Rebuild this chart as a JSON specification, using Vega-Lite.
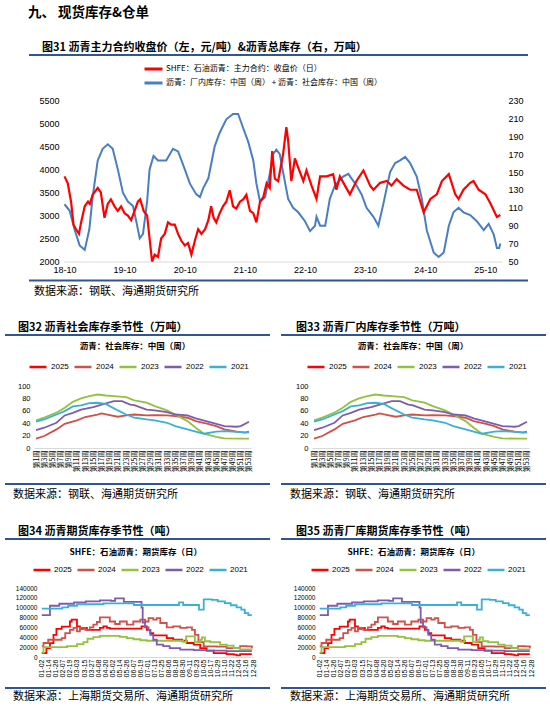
{
  "$schema": "https://vega.github.io/schema/vega-lite/v6.json",
  "padding": {"left": 5, "top": 5, "right": 0, "bottom": 0},
  "title": {"text": "九、   现货库存&仓单", "anchor": "start", "dx": 23, "offset": 22, "fontSize": 13.5, "fontWeight": "bold", "font": "Noto Sans CJK SC", "color": "#000000"},
  "datasets": {
    "price": [
      {"d": "2018-10-01", "v": 3850}, {"d": "2018-10-21", "v": 3700}, {"d": "2018-11-10", "v": 3300}, {"d": "2018-11-25", "v": 2800},
      {"d": "2018-12-10", "v": 2700}, {"d": "2018-12-28", "v": 2600}, {"d": "2019-01-10", "v": 2850}, {"d": "2019-02-01", "v": 3200},
      {"d": "2019-02-21", "v": 3300}, {"d": "2019-03-04", "v": 3250}, {"d": "2019-03-21", "v": 3450}, {"d": "2019-04-21", "v": 3600},
      {"d": "2019-05-10", "v": 3500}, {"d": "2019-06-01", "v": 2950}, {"d": "2019-06-21", "v": 3250}, {"d": "2019-07-10", "v": 3350},
      {"d": "2019-08-01", "v": 3200}, {"d": "2019-08-21", "v": 3100}, {"d": "2019-09-10", "v": 3200}, {"d": "2019-10-01", "v": 3050},
      {"d": "2019-10-21", "v": 3000}, {"d": "2019-11-10", "v": 2900}, {"d": "2019-12-01", "v": 3100}, {"d": "2019-12-21", "v": 3300},
      {"d": "2020-01-04", "v": 3350}, {"d": "2020-01-25", "v": 3100}, {"d": "2020-02-15", "v": 3000}, {"d": "2020-03-01", "v": 2500},
      {"d": "2020-03-16", "v": 2000}, {"d": "2020-04-01", "v": 2150}, {"d": "2020-04-21", "v": 2100}, {"d": "2020-05-10", "v": 2500},
      {"d": "2020-06-01", "v": 2600}, {"d": "2020-06-21", "v": 2850}, {"d": "2020-07-10", "v": 2800}, {"d": "2020-08-01", "v": 2800},
      {"d": "2020-08-21", "v": 2600}, {"d": "2020-09-10", "v": 2450}, {"d": "2020-10-01", "v": 2350}, {"d": "2020-10-21", "v": 2400},
      {"d": "2020-11-10", "v": 2150}, {"d": "2020-12-01", "v": 2450}, {"d": "2020-12-21", "v": 2700}, {"d": "2021-01-10", "v": 2600},
      {"d": "2021-02-01", "v": 2700}, {"d": "2021-02-21", "v": 2900}, {"d": "2021-03-10", "v": 3200}, {"d": "2021-03-25", "v": 2950},
      {"d": "2021-04-10", "v": 2850}, {"d": "2021-05-01", "v": 3050}, {"d": "2021-05-21", "v": 3200}, {"d": "2021-06-10", "v": 3300},
      {"d": "2021-07-01", "v": 3550}, {"d": "2021-07-21", "v": 3200}, {"d": "2021-08-10", "v": 3150}, {"d": "2021-09-01", "v": 3300},
      {"d": "2021-09-21", "v": 3350}, {"d": "2021-10-10", "v": 3450}, {"d": "2021-11-01", "v": 3100}, {"d": "2021-11-21", "v": 3050},
      {"d": "2021-12-10", "v": 2850}, {"d": "2022-01-01", "v": 3300}, {"d": "2022-01-21", "v": 3400}, {"d": "2022-02-10", "v": 3700},
      {"d": "2022-03-01", "v": 3600}, {"d": "2022-03-16", "v": 4400}, {"d": "2022-04-01", "v": 3800}, {"d": "2022-04-21", "v": 3750},
      {"d": "2022-05-21", "v": 4330}, {"d": "2022-06-10", "v": 4920}, {"d": "2022-06-21", "v": 4620}, {"d": "2022-07-10", "v": 3750},
      {"d": "2022-08-01", "v": 4240}, {"d": "2022-08-21", "v": 4040}, {"d": "2022-09-21", "v": 3750}, {"d": "2022-10-10", "v": 3980},
      {"d": "2022-11-10", "v": 3650}, {"d": "2022-12-10", "v": 3360}, {"d": "2023-01-01", "v": 3850}, {"d": "2023-02-10", "v": 3850},
      {"d": "2023-03-21", "v": 3900}, {"d": "2023-04-10", "v": 3560}, {"d": "2023-05-01", "v": 3850}, {"d": "2023-06-01", "v": 3650},
      {"d": "2023-07-01", "v": 3460}, {"d": "2023-08-10", "v": 3750}, {"d": "2023-09-21", "v": 3980}, {"d": "2023-11-01", "v": 3650},
      {"d": "2023-11-21", "v": 3560}, {"d": "2024-01-01", "v": 3710}, {"d": "2024-02-10", "v": 3750}, {"d": "2024-03-10", "v": 3650},
      {"d": "2024-04-10", "v": 3790}, {"d": "2024-05-21", "v": 3650}, {"d": "2024-07-01", "v": 3560}, {"d": "2024-08-10", "v": 3560},
      {"d": "2024-09-21", "v": 3070}, {"d": "2024-11-01", "v": 3360}, {"d": "2024-12-10", "v": 3460}, {"d": "2025-01-10", "v": 3750},
      {"d": "2025-02-21", "v": 3900}, {"d": "2025-04-01", "v": 3460}, {"d": "2025-04-21", "v": 3360}, {"d": "2025-05-21", "v": 3560},
      {"d": "2025-07-01", "v": 3710}, {"d": "2025-07-21", "v": 3750}, {"d": "2025-08-21", "v": 3560}, {"d": "2025-10-01", "v": 3460},
      {"d": "2025-11-01", "v": 3260}, {"d": "2025-12-10", "v": 2970}, {"d": "2025-12-31", "v": 3010}
    ],
    "stock": [
      {"d": "2018-10-01", "v": 114}, {"d": "2018-11-01", "v": 107}, {"d": "2018-12-01", "v": 86}, {"d": "2019-01-01", "v": 68},
      {"d": "2019-02-01", "v": 63}, {"d": "2019-03-01", "v": 86}, {"d": "2019-03-21", "v": 122}, {"d": "2019-04-21", "v": 163},
      {"d": "2019-05-21", "v": 176}, {"d": "2019-06-21", "v": 181}, {"d": "2019-07-21", "v": 176}, {"d": "2019-08-21", "v": 153},
      {"d": "2019-09-21", "v": 127}, {"d": "2019-10-21", "v": 117}, {"d": "2019-11-21", "v": 112}, {"d": "2019-12-10", "v": 96},
      {"d": "2020-01-01", "v": 76}, {"d": "2020-01-21", "v": 81}, {"d": "2020-02-15", "v": 117}, {"d": "2020-03-01", "v": 153},
      {"d": "2020-03-25", "v": 168}, {"d": "2020-04-21", "v": 163}, {"d": "2020-06-10", "v": 163}, {"d": "2020-07-21", "v": 176},
      {"d": "2020-08-21", "v": 173}, {"d": "2020-10-01", "v": 153}, {"d": "2020-11-01", "v": 137}, {"d": "2020-12-10", "v": 125},
      {"d": "2021-01-01", "v": 122}, {"d": "2021-01-21", "v": 132}, {"d": "2021-02-21", "v": 143}, {"d": "2021-04-01", "v": 179},
      {"d": "2021-05-01", "v": 194}, {"d": "2021-06-10", "v": 209}, {"d": "2021-07-21", "v": 215}, {"d": "2021-08-21", "v": 215},
      {"d": "2021-09-21", "v": 199}, {"d": "2021-10-21", "v": 184}, {"d": "2021-11-21", "v": 163}, {"d": "2021-12-10", "v": 137},
      {"d": "2022-01-01", "v": 117}, {"d": "2022-02-01", "v": 122}, {"d": "2022-03-01", "v": 148}, {"d": "2022-03-21", "v": 170},
      {"d": "2022-04-10", "v": 175}, {"d": "2022-05-01", "v": 170}, {"d": "2022-05-21", "v": 150}, {"d": "2022-06-21", "v": 120},
      {"d": "2022-07-21", "v": 110}, {"d": "2022-08-21", "v": 105}, {"d": "2022-10-01", "v": 95}, {"d": "2022-11-01", "v": 84},
      {"d": "2022-12-01", "v": 90}, {"d": "2022-12-10", "v": 100}, {"d": "2023-01-01", "v": 90}, {"d": "2023-02-01", "v": 90},
      {"d": "2023-03-01", "v": 120}, {"d": "2023-04-01", "v": 135}, {"d": "2023-05-21", "v": 145}, {"d": "2023-06-21", "v": 148},
      {"d": "2023-08-10", "v": 135}, {"d": "2023-09-10", "v": 125}, {"d": "2023-10-10", "v": 110}, {"d": "2023-11-21", "v": 100},
      {"d": "2023-12-21", "v": 90}, {"d": "2024-01-21", "v": 115}, {"d": "2024-03-01", "v": 150}, {"d": "2024-04-01", "v": 160},
      {"d": "2024-05-01", "v": 163}, {"d": "2024-06-01", "v": 167}, {"d": "2024-07-01", "v": 160}, {"d": "2024-08-10", "v": 145},
      {"d": "2024-09-10", "v": 120}, {"d": "2024-10-10", "v": 85}, {"d": "2024-11-21", "v": 60}, {"d": "2024-12-21", "v": 55},
      {"d": "2025-01-21", "v": 60}, {"d": "2025-02-21", "v": 90}, {"d": "2025-03-21", "v": 105}, {"d": "2025-04-21", "v": 110},
      {"d": "2025-05-21", "v": 105}, {"d": "2025-07-01", "v": 102}, {"d": "2025-08-10", "v": 95}, {"d": "2025-09-21", "v": 85},
      {"d": "2025-10-21", "v": 92}, {"d": "2025-11-21", "v": 80}, {"d": "2025-12-10", "v": 65}, {"d": "2025-12-24", "v": 65},
      {"d": "2025-12-31", "v": 70}
    ],
    "social": [
      {"yr": "2024", "w": 1, "v": 15}, {"yr": "2024", "w": 3, "v": 19.3}, {"yr": "2024", "w": 6, "v": 30}, {"yr": "2024", "w": 8, "v": 39},
      {"yr": "2024", "w": 11, "v": 44.5}, {"yr": "2024", "w": 13, "v": 50}, {"yr": "2024", "w": 16, "v": 54}, {"yr": "2024", "w": 17, "v": 55.8},
      {"yr": "2024", "w": 19, "v": 53}, {"yr": "2024", "w": 21, "v": 50.4}, {"yr": "2024", "w": 23, "v": 52.5}, {"yr": "2024", "w": 25, "v": 54},
      {"yr": "2024", "w": 28, "v": 52.5}, {"yr": "2024", "w": 30, "v": 53}, {"yr": "2024", "w": 33, "v": 52.5}, {"yr": "2024", "w": 35, "v": 51.5},
      {"yr": "2024", "w": 38, "v": 48.8}, {"yr": "2024", "w": 40, "v": 43.4}, {"yr": "2024", "w": 43, "v": 39}, {"yr": "2024", "w": 45, "v": 35.4},
      {"yr": "2024", "w": 47, "v": 30}, {"yr": "2024", "w": 50, "v": 26.3}, {"yr": "2024", "w": 52, "v": 24.7}, {"yr": "2024", "w": 53, "v": 26.3},
      {"yr": "2023", "w": 1, "v": 44.5}, {"yr": "2023", "w": 3, "v": 49}, {"yr": "2023", "w": 6, "v": 57}, {"yr": "2023", "w": 8, "v": 65},
      {"yr": "2023", "w": 10, "v": 74.5}, {"yr": "2023", "w": 12, "v": 80}, {"yr": "2023", "w": 14, "v": 83.6}, {"yr": "2023", "w": 16, "v": 86.3},
      {"yr": "2023", "w": 18, "v": 84.7}, {"yr": "2023", "w": 20, "v": 83.6}, {"yr": "2023", "w": 23, "v": 82}, {"yr": "2023", "w": 25, "v": 77},
      {"yr": "2023", "w": 28, "v": 73}, {"yr": "2023", "w": 30, "v": 67.6}, {"yr": "2023", "w": 33, "v": 60.6}, {"yr": "2023", "w": 35, "v": 54},
      {"yr": "2023", "w": 38, "v": 43.4}, {"yr": "2023", "w": 40, "v": 32.7}, {"yr": "2023", "w": 42, "v": 23}, {"yr": "2023", "w": 45, "v": 18},
      {"yr": "2023", "w": 47, "v": 15.5}, {"yr": "2023", "w": 51, "v": 15}, {"yr": "2023", "w": 53, "v": 15},
      {"yr": "2022", "w": 1, "v": 29}, {"yr": "2022", "w": 3, "v": 32.7}, {"yr": "2022", "w": 6, "v": 40.7}, {"yr": "2022", "w": 8, "v": 52.5},
      {"yr": "2022", "w": 10, "v": 56.8}, {"yr": "2022", "w": 12, "v": 62}, {"yr": "2022", "w": 15, "v": 66}, {"yr": "2022", "w": 17, "v": 70},
      {"yr": "2022", "w": 20, "v": 75.6}, {"yr": "2022", "w": 22, "v": 75.6}, {"yr": "2022", "w": 24, "v": 70}, {"yr": "2022", "w": 25, "v": 69},
      {"yr": "2022", "w": 28, "v": 62}, {"yr": "2022", "w": 30, "v": 60.6}, {"yr": "2022", "w": 33, "v": 58}, {"yr": "2022", "w": 35, "v": 54},
      {"yr": "2022", "w": 38, "v": 52.5}, {"yr": "2022", "w": 40, "v": 47.7}, {"yr": "2022", "w": 43, "v": 42.4}, {"yr": "2022", "w": 45, "v": 39},
      {"yr": "2022", "w": 47, "v": 35.4}, {"yr": "2022", "w": 50, "v": 34.3}, {"yr": "2022", "w": 51, "v": 35.4}, {"yr": "2022", "w": 53, "v": 42.4},
      {"yr": "2021", "w": 1, "v": 42.4}, {"yr": "2021", "w": 3, "v": 46}, {"yr": "2021", "w": 6, "v": 54}, {"yr": "2021", "w": 8, "v": 59.5},
      {"yr": "2021", "w": 10, "v": 67}, {"yr": "2021", "w": 12, "v": 68.6}, {"yr": "2021", "w": 14, "v": 72.4}, {"yr": "2021", "w": 16, "v": 73},
      {"yr": "2021", "w": 18, "v": 71.3}, {"yr": "2021", "w": 19, "v": 67.6}, {"yr": "2021", "w": 21, "v": 60.6}, {"yr": "2021", "w": 23, "v": 54},
      {"yr": "2021", "w": 25, "v": 48.8}, {"yr": "2021", "w": 28, "v": 46}, {"yr": "2021", "w": 30, "v": 44.5}, {"yr": "2021", "w": 33, "v": 40.7},
      {"yr": "2021", "w": 35, "v": 35.4}, {"yr": "2021", "w": 38, "v": 30}, {"yr": "2021", "w": 40, "v": 26.3}, {"yr": "2021", "w": 42, "v": 23},
      {"yr": "2021", "w": 45, "v": 26.3}, {"yr": "2021", "w": 47, "v": 27.3}, {"yr": "2021", "w": 51, "v": 25.7}, {"yr": "2021", "w": 53, "v": 24.7}
    ],
    "futures": [
      {"yr": "2025", "d": 0, "v": 8000}, {"yr": "2025", "d": 8, "v": 18000}, {"yr": "2025", "d": 14, "v": 28000}, {"yr": "2025", "d": 20, "v": 45000},
      {"yr": "2025", "d": 25, "v": 57000}, {"yr": "2025", "d": 34, "v": 61500}, {"yr": "2025", "d": 48, "v": 72000}, {"yr": "2025", "d": 51, "v": 75700},
      {"yr": "2025", "d": 60, "v": 62000}, {"yr": "2025", "d": 65, "v": 57000}, {"yr": "2025", "d": 71, "v": 59000}, {"yr": "2025", "d": 77, "v": 55000},
      {"yr": "2025", "d": 99, "v": 59000}, {"yr": "2025", "d": 105, "v": 62000}, {"yr": "2025", "d": 111, "v": 59000}, {"yr": "2025", "d": 116, "v": 57500},
      {"yr": "2025", "d": 170, "v": 62000}, {"yr": "2025", "d": 179, "v": 55000}, {"yr": "2025", "d": 185, "v": 48600}, {"yr": "2025", "d": 190, "v": 44000},
      {"yr": "2025", "d": 213, "v": 38500}, {"yr": "2025", "d": 224, "v": 35000}, {"yr": "2025", "d": 239, "v": 33000}, {"yr": "2025", "d": 247, "v": 28400},
      {"yr": "2025", "d": 259, "v": 25000}, {"yr": "2025", "d": 270, "v": 18000}, {"yr": "2025", "d": 281, "v": 13000}, {"yr": "2025", "d": 293, "v": 8000},
      {"yr": "2025", "d": 315, "v": 6000}, {"yr": "2025", "d": 327, "v": 4700}, {"yr": "2025", "d": 332, "v": 3400}, {"yr": "2025", "d": 338, "v": 6000},
      {"yr": "2025", "d": 358, "v": 6000},
      {"yr": "2024", "d": 0, "v": 21600}, {"yr": "2024", "d": 3, "v": 28400}, {"yr": "2024", "d": 11, "v": 35000}, {"yr": "2024", "d": 34, "v": 38500},
      {"yr": "2024", "d": 40, "v": 48600}, {"yr": "2024", "d": 48, "v": 55000}, {"yr": "2024", "d": 54, "v": 59000}, {"yr": "2024", "d": 60, "v": 52000},
      {"yr": "2024", "d": 65, "v": 59000}, {"yr": "2024", "d": 74, "v": 55000}, {"yr": "2024", "d": 82, "v": 60000}, {"yr": "2024", "d": 88, "v": 65500},
      {"yr": "2024", "d": 94, "v": 71000}, {"yr": "2024", "d": 99, "v": 80400}, {"yr": "2024", "d": 116, "v": 72000}, {"yr": "2024", "d": 125, "v": 67000},
      {"yr": "2024", "d": 133, "v": 72000}, {"yr": "2024", "d": 145, "v": 65500}, {"yr": "2024", "d": 156, "v": 72000}, {"yr": "2024", "d": 168, "v": 75700},
      {"yr": "2024", "d": 176, "v": 72000}, {"yr": "2024", "d": 182, "v": 79000}, {"yr": "2024", "d": 190, "v": 75700}, {"yr": "2024", "d": 196, "v": 79000},
      {"yr": "2024", "d": 202, "v": 69000}, {"yr": "2024", "d": 213, "v": 60000}, {"yr": "2024", "d": 224, "v": 62000}, {"yr": "2024", "d": 236, "v": 59000},
      {"yr": "2024", "d": 247, "v": 60000}, {"yr": "2024", "d": 256, "v": 55000}, {"yr": "2024", "d": 261, "v": 45000}, {"yr": "2024", "d": 267, "v": 30000},
      {"yr": "2024", "d": 276, "v": 21600}, {"yr": "2024", "d": 298, "v": 21000}, {"yr": "2024", "d": 315, "v": 18000}, {"yr": "2024", "d": 338, "v": 22000},
      {"yr": "2024", "d": 349, "v": 21600}, {"yr": "2024", "d": 358, "v": 18000},
      {"yr": "2023", "d": 0, "v": 9000}, {"yr": "2023", "d": 3, "v": 20000}, {"yr": "2023", "d": 43, "v": 22000}, {"yr": "2023", "d": 60, "v": 26000},
      {"yr": "2023", "d": 71, "v": 30000}, {"yr": "2023", "d": 78, "v": 37000}, {"yr": "2023", "d": 88, "v": 40500}, {"yr": "2023", "d": 99, "v": 43000},
      {"yr": "2023", "d": 133, "v": 41000}, {"yr": "2023", "d": 145, "v": 38500}, {"yr": "2023", "d": 156, "v": 36000}, {"yr": "2023", "d": 168, "v": 34000},
      {"yr": "2023", "d": 179, "v": 33000}, {"yr": "2023", "d": 241, "v": 30500}, {"yr": "2023", "d": 246, "v": 42000}, {"yr": "2023", "d": 259, "v": 42000},
      {"yr": "2023", "d": 261, "v": 30500}, {"yr": "2023", "d": 270, "v": 35000}, {"yr": "2023", "d": 273, "v": 40000}, {"yr": "2023", "d": 278, "v": 32000},
      {"yr": "2023", "d": 287, "v": 30000}, {"yr": "2023", "d": 304, "v": 25000}, {"yr": "2023", "d": 315, "v": 23000}, {"yr": "2023", "d": 327, "v": 18000},
      {"yr": "2023", "d": 338, "v": 15500}, {"yr": "2023", "d": 358, "v": 15000},
      {"yr": "2022", "d": 0, "v": 85000}, {"yr": "2022", "d": 14, "v": 104000}, {"yr": "2022", "d": 30, "v": 108000}, {"yr": "2022", "d": 55, "v": 111000},
      {"yr": "2022", "d": 75, "v": 113000}, {"yr": "2022", "d": 99, "v": 115000}, {"yr": "2022", "d": 118, "v": 114000}, {"yr": "2022", "d": 125, "v": 119000},
      {"yr": "2022", "d": 140, "v": 112000}, {"yr": "2022", "d": 168, "v": 112000}, {"yr": "2022", "d": 170, "v": 100000}, {"yr": "2022", "d": 172, "v": 70000},
      {"yr": "2022", "d": 176, "v": 60000}, {"yr": "2022", "d": 182, "v": 55000}, {"yr": "2022", "d": 185, "v": 45000}, {"yr": "2022", "d": 190, "v": 35000},
      {"yr": "2022", "d": 196, "v": 25000}, {"yr": "2022", "d": 207, "v": 22000}, {"yr": "2022", "d": 218, "v": 18000}, {"yr": "2022", "d": 236, "v": 15000},
      {"yr": "2022", "d": 259, "v": 14000}, {"yr": "2022", "d": 281, "v": 13000}, {"yr": "2022", "d": 315, "v": 12000}, {"yr": "2022", "d": 358, "v": 12000},
      {"yr": "2021", "d": 0, "v": 98000}, {"yr": "2021", "d": 35, "v": 100700}, {"yr": "2021", "d": 45, "v": 104000}, {"yr": "2021", "d": 60, "v": 107000},
      {"yr": "2021", "d": 105, "v": 109000}, {"yr": "2021", "d": 157, "v": 105500}, {"yr": "2021", "d": 234, "v": 111000}, {"yr": "2021", "d": 241, "v": 105500},
      {"yr": "2021", "d": 268, "v": 96000}, {"yr": "2021", "d": 276, "v": 117000}, {"yr": "2021", "d": 290, "v": 116000}, {"yr": "2021", "d": 300, "v": 113000},
      {"yr": "2021", "d": 312, "v": 109500}, {"yr": "2021", "d": 322, "v": 105000}, {"yr": "2021", "d": 332, "v": 100700}, {"yr": "2021", "d": 340, "v": 96000},
      {"yr": "2021", "d": 346, "v": 89000}, {"yr": "2021", "d": 352, "v": 85000}, {"yr": "2021", "d": 358, "v": 85000}
    ]
  },
  "spacing": 23,
  "resolve": {"scale": {"color": "independent"}, "legend": {"color": "independent"}},
  "vconcat": [
    {
      "spacing": 10,
      "resolve": {"scale": {"color": "independent"}, "legend": {"color": "independent"}},
      "hconcat": [
        {"width": 13, "height": 1, "data": {"values": [{}]}, "mark": {"type": "point", "size": 0, "opacity": 0}},
        {
          "spacing": 4.5,
          "resolve": {"scale": {"color": "independent"}, "legend": {"color": "independent"}},
          "vconcat": [
            {
              "width": 497, "height": 0.01,
              "view": {"stroke": "#2F5597", "strokeWidth": 2},
              "title": {"text": "图31  沥青主力合约收盘价（左，元/吨）&沥青总库存（右，万吨）", "anchor": "start", "dx": 12, "offset": 1.7, "fontSize": 11, "fontWeight": "bold"},
              "data": {"values": [{}]}, "mark": {"type": "point", "size": 0, "opacity": 0}
            },
            {
              "spacing": 5,
              "resolve": {"scale": {"color": "independent"}, "legend": {"color": "independent"}},
              "vconcat": [
                {
                  "spacing": 7,
                  "resolve": {"scale": {"color": "independent"}, "legend": {"color": "independent"}},
                  "hconcat": [
                    {"width": 1, "height": 1, "data": {"values": [{}]}, "mark": {"type": "point", "size": 0, "opacity": 0}},
                    {
                      "width": 439, "height": 161,
                      "layer": [
                        {
                          "data": {"name": "stock"},
                          "mark": {"type": "line", "strokeWidth": 2},
                          "encoding": {
                            "x": {"field": "d", "type": "temporal",
                              "scale": {"type": "utc", "domain": [{"year": 2018, "month": 9, "date": 22, "utc": true}, {"year": 2026, "month": 1, "date": 10, "utc": true}]},
                              "axis": {"title": null, "format": "%y-%m", "labelFontSize": 9, "labelPadding": 4, "domain": true, "domainColor": "#D9D9D9", "labelOverlap": false, "labelFlush": false,
                                "values": [
                                  {"year": 2018, "month": 10, "date": 1, "utc": true}, {"year": 2019, "month": 4, "date": 1, "utc": true},
                                  {"year": 2019, "month": 10, "date": 1, "utc": true}, {"year": 2020, "month": 4, "date": 1, "utc": true},
                                  {"year": 2020, "month": 10, "date": 1, "utc": true}, {"year": 2021, "month": 4, "date": 1, "utc": true},
                                  {"year": 2021, "month": 10, "date": 1, "utc": true}, {"year": 2022, "month": 4, "date": 1, "utc": true},
                                  {"year": 2022, "month": 10, "date": 1, "utc": true}, {"year": 2023, "month": 4, "date": 1, "utc": true},
                                  {"year": 2023, "month": 10, "date": 1, "utc": true}, {"year": 2024, "month": 4, "date": 1, "utc": true},
                                  {"year": 2024, "month": 10, "date": 1, "utc": true}, {"year": 2025, "month": 4, "date": 1, "utc": true},
                                  {"year": 2025, "month": 10, "date": 1, "utc": true}
                                ]}},
                            "y": {"field": "v", "type": "quantitative", "scale": {"domain": [50, 230], "nice": false, "zero": false},
                              "axis": {"orient": "right", "title": null, "values": [50, 70, 90, 110, 130, 150, 170, 190, 210, 230], "labelFontSize": 9, "labelPadding": 6}},
                            "color": {"datum": "沥青：厂内库存：中国（周） + 沥青：社会库存：中国（周）", "type": "nominal",
                              "scale": {"domain": ["SHFE：石油沥青：主力合约：收盘价（日）", "沥青：厂内库存：中国（周） + 沥青：社会库存：中国（周）"], "range": ["#FF0000", "#4A7EC2"]},
                              "legend": {"orient": "none", "legendX": 83, "legendY": -39, "direction": "vertical", "title": null, "symbolType": "M-1.5,0H1.5", "symbolSize": 144, "symbolStrokeWidth": 3,
                                "labelFont": "Noto Sans CJK SC", "labelFontSize": 8, "labelLimit": 400, "rowPadding": 0, "padding": 0, "labelOffset": 5}}
                          }
                        },
                        {
                          "data": {"name": "price"},
                          "mark": {"type": "line", "strokeWidth": 2.2},
                          "encoding": {
                            "x": {"field": "d", "type": "temporal"},
                            "y": {"field": "v", "type": "quantitative", "scale": {"domain": [2000, 5500], "nice": false, "zero": false},
                              "axis": {"orient": "left", "title": null, "format": "d", "values": [2000, 2500, 3000, 3500, 4000, 4500, 5000, 5500], "labelFontSize": 9, "labelPadding": 4}},
                            "color": {"datum": "SHFE：石油沥青：主力合约：收盘价（日）", "type": "nominal"}
                          }
                        }
                      ],
                      "resolve": {"scale": {"y": "independent"}}
                    }
                  ]
                },
                {
                  "width": 497, "height": 0.01,
                  "view": {"stroke": "#2F5597", "strokeWidth": 2},
                  "title": {"text": "数据来源：钢联、海通期货研究所", "orient": "bottom", "anchor": "start", "dx": 4, "offset": 5, "fontSize": 11, "fontWeight": "normal"},
                  "data": {"values": [{}]}, "mark": {"type": "point", "size": 0, "opacity": 0}
                }
              ]
            }
          ]
        }
      ]
    },
    {
      "spacing": 11,
      "resolve": {"scale": {"color": "independent"}, "legend": {"color": "independent"}},
      "hconcat": [
        {
          "spacing": 4,
          "resolve": {"scale": {"color": "independent"}, "legend": {"color": "independent"}},
          "vconcat": [
            {
              "width": 263, "height": 0.01,
              "view": {"stroke": "#2F5597", "strokeWidth": 2},
              "title": {"text": "图32  沥青社会库存季节性（万吨）", "anchor": "start", "dx": 12, "offset": 1.7, "fontSize": 11, "fontWeight": "bold"},
              "data": {"values": [{}]}, "mark": {"type": "point", "size": 0, "opacity": 0}
            },
            {
              "spacing": 11,
              "resolve": {"scale": {"color": "independent"}, "legend": {"color": "independent"}},
              "vconcat": [
                {
                  "spacing": 10,
                  "resolve": {"scale": {"color": "independent"}, "legend": {"color": "independent"}},
                  "hconcat": [
                    {"width": 1, "height": 1, "data": {"values": [{}]}, "mark": {"type": "point", "size": 0, "opacity": 0}},
                    {
                      "width": 217, "height": 62,
                      "title": {"text": "沥青：社会库存：中国（周）", "fontSize": 8.5, "fontWeight": "bold", "anchor": "middle", "frame": "bounds", "offset": 7},
                      "data": {"name": "social"},
                      "mark": {"type": "line", "strokeWidth": 1.8},
                      "encoding": {
                        "x": {"field": "w", "type": "quantitative", "scale": {"domain": [0.5, 53.5], "nice": false, "zero": false},
                          "axis": {"title": null, "values": [1, 3, 5, 7, 9, 11, 13, 15, 17, 19, 21, 23, 25, 27, 29, 31, 33, 35, 37, 39, 41, 43, 45, 47, 49, 51, 53],
                            "labelExpr": "'第' + datum.value + '周'", "labelAngle": -90, "labelFont": "Noto Sans CJK SC", "labelFontSize": 7, "labelPadding": 2,
                            "labelOverlap": false, "labelFlush": false, "domain": true, "domainColor": "#D9D9D9"}},
                        "y": {"field": "v", "type": "quantitative", "scale": {"domain": [0, 100], "nice": false},
                          "axis": {"title": null, "values": [0, 20, 40, 60, 80, 100], "labelFontSize": 7.5, "labelPadding": 4}},
                        "color": {"field": "yr", "type": "nominal",
                          "scale": {"domain": ["2025", "2024", "2023", "2022", "2021"], "range": ["#FF0000", "#D0504A", "#92C23E", "#7F5BB0", "#38B1D6"]},
                          "legend": {"orient": "none", "legendX": -6, "legendY": -29, "direction": "horizontal", "columns": 5, "gridAlign": "all", "title": null, "symbolType": "stroke", "symbolSize": 289,
                            "symbolStrokeWidth": 2.5, "labelFontSize": 8, "columnPadding": 0, "labelOffset": 3}}
                      }
                    }
                  ]
                },
                {
                  "width": 263, "height": 0.01,
                  "view": {"stroke": "#2F5597", "strokeWidth": 2},
                  "title": {"text": "数据来源：钢联、海通期货研究所", "orient": "bottom", "anchor": "start", "dx": 7, "offset": 5, "fontSize": 11, "fontWeight": "normal"},
                  "data": {"values": [{}]}, "mark": {"type": "point", "size": 0, "opacity": 0}
                }
              ]
            }
          ]
        },
        {
          "spacing": 4,
          "resolve": {"scale": {"color": "independent"}, "legend": {"color": "independent"}},
          "vconcat": [
            {
              "width": 263, "height": 0.01,
              "view": {"stroke": "#2F5597", "strokeWidth": 2},
              "title": {"text": "图33  沥青厂内库存季节性（万吨）", "anchor": "start", "dx": 14, "offset": 1.7, "fontSize": 11, "fontWeight": "bold"},
              "data": {"values": [{}]}, "mark": {"type": "point", "size": 0, "opacity": 0}
            },
            {
              "spacing": 11,
              "resolve": {"scale": {"color": "independent"}, "legend": {"color": "independent"}},
              "vconcat": [
                {
                  "spacing": 12,
                  "resolve": {"scale": {"color": "independent"}, "legend": {"color": "independent"}},
                  "hconcat": [
                    {"width": 1, "height": 1, "data": {"values": [{}]}, "mark": {"type": "point", "size": 0, "opacity": 0}},
                    {
                      "width": 217, "height": 62,
                      "title": {"text": "沥青：社会库存：中国（周）", "fontSize": 8.5, "fontWeight": "bold", "anchor": "middle", "frame": "bounds", "offset": 7},
                      "data": {"name": "social"},
                      "mark": {"type": "line", "strokeWidth": 1.8},
                      "encoding": {
                        "x": {"field": "w", "type": "quantitative", "scale": {"domain": [0.5, 53.5], "nice": false, "zero": false},
                          "axis": {"title": null, "values": [1, 3, 5, 7, 9, 11, 13, 15, 17, 19, 21, 23, 25, 27, 29, 31, 33, 35, 37, 39, 41, 43, 45, 47, 49, 51, 53],
                            "labelExpr": "'第' + datum.value + '周'", "labelAngle": -90, "labelFont": "Noto Sans CJK SC", "labelFontSize": 7, "labelPadding": 2,
                            "labelOverlap": false, "labelFlush": false, "domain": true, "domainColor": "#D9D9D9"}},
                        "y": {"field": "v", "type": "quantitative", "scale": {"domain": [0, 100], "nice": false},
                          "axis": {"title": null, "values": [0, 20, 40, 60, 80, 100], "labelFontSize": 7.5, "labelPadding": 4}},
                        "color": {"field": "yr", "type": "nominal",
                          "scale": {"domain": ["2025", "2024", "2023", "2022", "2021"], "range": ["#FF0000", "#D0504A", "#92C23E", "#7F5BB0", "#38B1D6"]},
                          "legend": {"orient": "none", "legendX": -6, "legendY": -29, "direction": "horizontal", "columns": 5, "gridAlign": "all", "title": null, "symbolType": "stroke", "symbolSize": 289,
                            "symbolStrokeWidth": 2.5, "labelFontSize": 8, "columnPadding": 0, "labelOffset": 3}}
                      }
                    }
                  ]
                },
                {
                  "width": 263, "height": 0.01,
                  "view": {"stroke": "#2F5597", "strokeWidth": 2},
                  "title": {"text": "数据来源：钢联、海通期货研究所", "orient": "bottom", "anchor": "start", "dx": 8, "offset": 5, "fontSize": 11, "fontWeight": "normal"},
                  "data": {"values": [{}]}, "mark": {"type": "point", "size": 0, "opacity": 0}
                }
              ]
            }
          ]
        }
      ]
    },
    {
      "spacing": 11,
      "resolve": {"scale": {"color": "independent"}, "legend": {"color": "independent"}},
      "hconcat": [
        {
          "spacing": 6,
          "resolve": {"scale": {"color": "independent"}, "legend": {"color": "independent"}},
          "vconcat": [
            {
              "width": 263, "height": 0.01,
              "view": {"stroke": "#2F5597", "strokeWidth": 2},
              "title": {"text": "图34  沥青期货库存季节性（吨）", "anchor": "start", "dx": 12, "offset": 1.7, "fontSize": 11, "fontWeight": "bold"},
              "data": {"values": [{}]}, "mark": {"type": "point", "size": 0, "opacity": 0}
            },
            {
              "spacing": 10,
              "resolve": {"scale": {"color": "independent"}, "legend": {"color": "independent"}},
              "vconcat": [
                {
                  "spacing": 8,
                  "resolve": {"scale": {"color": "independent"}, "legend": {"color": "independent"}},
                  "hconcat": [
                    {"width": 1, "height": 1, "data": {"values": [{}]}, "mark": {"type": "point", "size": 0, "opacity": 0}},
                    {
                      "width": 213, "height": 69,
                      "title": {"text": "SHFE：石油沥青：期货库存（日）", "fontSize": 8.5, "fontWeight": "bold", "anchor": "middle", "frame": "bounds", "offset": 4},
                      "data": {"name": "futures"},
                      "mark": {"type": "line", "strokeWidth": 1.8, "interpolate": "step-after"},
                      "encoding": {
                        "x": {"field": "d", "type": "quantitative", "scale": {"domain": [-3, 360], "nice": false, "zero": false},
                          "axis": {"title": null, "values": [0, 12, 24, 36, 48, 60, 72, 84, 96, 108, 120, 132, 144, 156, 168, 180, 192, 204, 216, 228, 240, 252, 264, 276, 288, 300, 312, 324, 336, 348, 360],
                            "labelExpr": "timeFormat(datetime(2025, 0, 2 + datum.value), '%m-%d')", "labelAngle": -90, "labelFontSize": 7, "labelPadding": 2,
                            "labelOverlap": false, "labelFlush": false, "domain": true, "domainColor": "#D9D9D9"}},
                        "y": {"field": "v", "type": "quantitative", "scale": {"domain": [0, 140000], "nice": false},
                          "axis": {"title": null, "format": "d", "values": [0, 20000, 40000, 60000, 80000, 100000, 120000, 140000], "labelFontSize": 6.5, "labelPadding": 3}},
                        "color": {"field": "yr", "type": "nominal",
                          "scale": {"domain": ["2025", "2024", "2023", "2022", "2021"], "range": ["#FF0000", "#D0504A", "#92C23E", "#7F5BB0", "#38B1D6"]},
                          "legend": {"orient": "none", "legendX": -8, "legendY": -28, "direction": "horizontal", "columns": 5, "gridAlign": "all", "title": null, "symbolType": "stroke", "symbolSize": 289,
                            "symbolStrokeWidth": 2.5, "labelFontSize": 8, "columnPadding": 0, "labelOffset": 2}}
                      }
                    }
                  ]
                },
                {
                  "width": 263, "height": 0.01,
                  "view": {"stroke": "#2F5597", "strokeWidth": 2},
                  "title": {"text": "数据来源：上海期货交易所、海通期货研究所", "orient": "bottom", "anchor": "start", "dx": 7, "offset": 3, "fontSize": 11, "fontWeight": "normal"},
                  "data": {"values": [{}]}, "mark": {"type": "point", "size": 0, "opacity": 0}
                }
              ]
            }
          ]
        },
        {
          "spacing": 6,
          "resolve": {"scale": {"color": "independent"}, "legend": {"color": "independent"}},
          "vconcat": [
            {
              "width": 263, "height": 0.01,
              "view": {"stroke": "#2F5597", "strokeWidth": 2},
              "title": {"text": "图35  沥青厂库期货库存季节性（吨）", "anchor": "start", "dx": 14, "offset": 1.7, "fontSize": 11, "fontWeight": "bold"},
              "data": {"values": [{}]}, "mark": {"type": "point", "size": 0, "opacity": 0}
            },
            {
              "spacing": 10,
              "resolve": {"scale": {"color": "independent"}, "legend": {"color": "independent"}},
              "vconcat": [
                {
                  "spacing": 10,
                  "resolve": {"scale": {"color": "independent"}, "legend": {"color": "independent"}},
                  "hconcat": [
                    {"width": 1, "height": 1, "data": {"values": [{}]}, "mark": {"type": "point", "size": 0, "opacity": 0}},
                    {
                      "width": 213, "height": 69,
                      "title": {"text": "SHFE：石油沥青：期货库存（日）", "fontSize": 8.5, "fontWeight": "bold", "anchor": "middle", "frame": "bounds", "offset": 4},
                      "data": {"name": "futures"},
                      "mark": {"type": "line", "strokeWidth": 1.8, "interpolate": "step-after"},
                      "encoding": {
                        "x": {"field": "d", "type": "quantitative", "scale": {"domain": [-3, 360], "nice": false, "zero": false},
                          "axis": {"title": null, "values": [0, 12, 24, 36, 48, 60, 72, 84, 96, 108, 120, 132, 144, 156, 168, 180, 192, 204, 216, 228, 240, 252, 264, 276, 288, 300, 312, 324, 336, 348, 360],
                            "labelExpr": "timeFormat(datetime(2025, 0, 2 + datum.value), '%m-%d')", "labelAngle": -90, "labelFontSize": 7, "labelPadding": 2,
                            "labelOverlap": false, "labelFlush": false, "domain": true, "domainColor": "#D9D9D9"}},
                        "y": {"field": "v", "type": "quantitative", "scale": {"domain": [0, 140000], "nice": false},
                          "axis": {"title": null, "format": "d", "values": [0, 20000, 40000, 60000, 80000, 100000, 120000, 140000], "labelFontSize": 6.5, "labelPadding": 3}},
                        "color": {"field": "yr", "type": "nominal",
                          "scale": {"domain": ["2025", "2024", "2023", "2022", "2021"], "range": ["#FF0000", "#D0504A", "#92C23E", "#7F5BB0", "#38B1D6"]},
                          "legend": {"orient": "none", "legendX": -8, "legendY": -28, "direction": "horizontal", "columns": 5, "gridAlign": "all", "title": null, "symbolType": "stroke", "symbolSize": 289,
                            "symbolStrokeWidth": 2.5, "labelFontSize": 8, "columnPadding": 0, "labelOffset": 2}}
                      }
                    }
                  ]
                },
                {
                  "width": 263, "height": 0.01,
                  "view": {"stroke": "#2F5597", "strokeWidth": 2},
                  "title": {"text": "数据来源：上海期货交易所、海通期货研究所", "orient": "bottom", "anchor": "start", "dx": 8, "offset": 3, "fontSize": 11, "fontWeight": "normal"},
                  "data": {"values": [{}]}, "mark": {"type": "point", "size": 0, "opacity": 0}
                }
              ]
            }
          ]
        }
      ]
    }
  ],
  "config": {
    "font": "Liberation Sans",
    "view": {"stroke": null},
    "axis": {"grid": false, "ticks": false, "domain": false, "labelColor": "#000000", "labelFont": "Liberation Sans"},
    "legend": {"labelColor": "#000000", "labelFont": "Liberation Sans"},
    "title": {"color": "#000000", "font": "Noto Sans CJK SC"}
  }
}
